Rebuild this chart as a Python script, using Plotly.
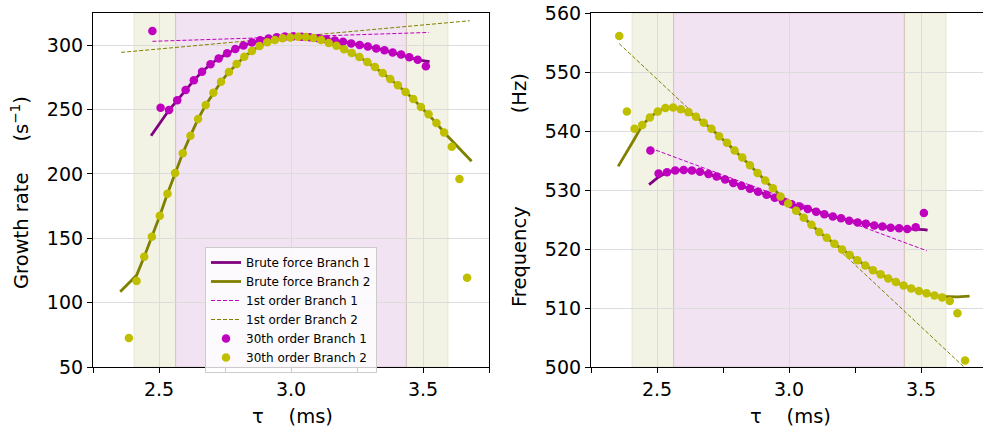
import plotly.graph_objects as go

# ---------------- data ----------------
# 30th order, branch 1 (magenta)
tau_b1 = [2.475, 2.506, 2.538, 2.569, 2.601, 2.632, 2.663, 2.695, 2.726, 2.758,
          2.789, 2.820, 2.852, 2.883, 2.915, 2.946, 2.977, 3.009, 3.040, 3.071,
          3.103, 3.134, 3.166, 3.197, 3.228, 3.260, 3.291, 3.323, 3.354, 3.385,
          3.417, 3.448, 3.480, 3.511]
growth_b1_30 = [311.1, 251.4, 249.6, 257.2, 265.2, 272.7, 279.3, 285.2, 289.7, 293.7,
                297.0, 299.8, 302.1, 303.9, 305.2, 306.2, 306.7, 306.9, 306.6, 306.1,
                305.3, 304.6, 303.7, 302.6, 301.4, 300.2, 298.9, 297.5, 296.0, 294.4,
                292.7, 290.7, 288.6, 283.6]
freq_b1_30 = [536.7, 532.8, 533.0, 533.3, 533.4, 533.3, 533.1, 532.7, 532.3, 531.8,
              531.2, 530.7, 530.2, 529.7, 529.2, 528.7, 528.1, 527.6, 527.2, 526.8,
              526.3, 525.9, 525.5, 525.2, 524.8, 524.5, 524.3, 524.0, 523.8, 523.6,
              523.5, 523.4, 523.7, 526.1]

# 30th order, branch 2 (yellow)
tau_b2 = [2.357, 2.386, 2.415, 2.444, 2.473, 2.503, 2.532, 2.561, 2.590, 2.619,
          2.648, 2.677, 2.706, 2.735, 2.765, 2.794, 2.823, 2.852, 2.881, 2.910,
          2.939, 2.968, 2.997, 3.027, 3.056, 3.085, 3.114, 3.143, 3.172, 3.201,
          3.230, 3.259, 3.289, 3.318, 3.347, 3.376, 3.405, 3.434, 3.463, 3.492,
          3.521, 3.551, 3.580, 3.609, 3.638, 3.667]
growth_b2_30 = [None, 72.5, 116.8, 135.7, 151.2, 167.5, 184.6, 200.7, 216.0, 229.7,
                242.6, 253.6, 263.1, 271.6, 279.2, 285.4, 291.0, 295.5, 299.4, 302.2,
                304.0, 305.3, 306.0, 306.6, 306.3, 305.6, 304.0, 301.7, 299.6, 296.8,
                293.9, 290.8, 286.9, 283.0, 278.4, 273.7, 268.8, 263.6, 258.2, 251.9,
                246.3, 239.5, 232.2, 221.1, 196.0, 119.4]
freq_b2_30 = [556.1, 543.3, 540.4, 541.0, 542.3, 543.3, 543.9, 544.0, 543.7, 543.2,
              542.4, 541.4, 540.4, 539.1, 538.0, 536.7, 535.5, 534.2, 532.9, 531.6,
              530.3, 528.9, 527.7, 526.5, 525.3, 524.1, 522.9, 521.9, 520.9, 519.9,
              519.0, 518.1, 517.2, 516.4, 515.7, 515.0, 514.4, 513.8, 513.3, 512.9,
              512.5, 512.1, 511.8, 511.2, 509.1, 501.1]

# brute force, branch 1
tau_bf1 = [2.470, 2.506, 2.538, 2.569, 2.601, 2.632, 2.663, 2.695, 2.726, 2.758,
           2.789, 2.820, 2.852, 2.883, 2.915, 2.946, 2.977, 3.009, 3.040, 3.071,
           3.103, 3.134, 3.166, 3.197, 3.228, 3.260, 3.291, 3.323, 3.354, 3.385,
           3.417, 3.448, 3.480, 3.511, 3.525]
growth_bf1 = [229.7, 240.2, 249.6, 257.2, 265.2, 272.7, 279.3, 285.2, 289.7, 293.7,
              297.0, 299.8, 302.1, 303.9, 305.2, 306.2, 306.7, 306.9, 306.6, 306.1,
              305.3, 304.6, 303.7, 302.6, 301.4, 300.2, 298.9, 297.5, 296.0, 294.4,
              292.7, 290.7, 288.6, 287.6, 287.2]
freq_bf1 = [530.9, 532.2, 533.0, 533.3, 533.4, 533.3, 533.1, 532.7, 532.3, 531.8,
            531.2, 530.7, 530.2, 529.7, 529.2, 528.7, 528.1, 527.6, 527.2, 526.8,
            526.3, 525.9, 525.5, 525.2, 524.8, 524.5, 524.3, 524.0, 523.8, 523.6,
            523.5, 523.4, 523.4, 523.3, 523.2]

# brute force, branch 2
tau_bf2 = [2.353, 2.386, 2.415, 2.444, 2.473, 2.503, 2.532, 2.561, 2.590, 2.619,
           2.648, 2.677, 2.706, 2.735, 2.765, 2.794, 2.823, 2.852, 2.881, 2.910,
           2.939, 2.968, 2.997, 3.027, 3.056, 3.085, 3.114, 3.143, 3.172, 3.201,
           3.230, 3.259, 3.289, 3.318, 3.347, 3.376, 3.405, 3.434, 3.463, 3.492,
           3.521, 3.551, 3.580, 3.609, 3.638, 3.684]
growth_bf2 = [108.5, 115.0, 121.2, 135.7, 151.2, 167.5, 184.6, 200.7, 216.0, 229.7,
              242.6, 253.6, 263.1, 271.6, 279.2, 285.4, 291.0, 295.5, 299.4, 302.2,
              304.0, 305.3, 306.0, 306.6, 306.3, 305.6, 304.0, 301.7, 299.6, 296.8,
              293.9, 290.8, 286.9, 283.0, 278.4, 273.7, 268.8, 263.6, 258.2, 251.9,
              246.3, 239.5, 232.2, 225.8, 219.4, 209.8]
freq_bf2 = [534.0, 536.4, 538.7, 541.0, 542.3, 543.3, 543.9, 544.0, 543.7, 543.2,
            542.4, 541.4, 540.4, 539.1, 538.0, 536.7, 535.5, 534.2, 532.9, 531.6,
            530.3, 528.9, 527.7, 526.5, 525.3, 524.1, 522.9, 521.9, 520.9, 519.9,
            519.0, 518.1, 517.2, 516.4, 515.7, 515.0, 514.4, 513.8, 513.3, 512.9,
            512.5, 512.1, 511.95, 511.9, 511.9, 512.0]

# first order (linear)
tau_fo1 = [2.475, 3.522]
growth_fo1 = [303.0, 309.9]
freq_fo1 = [537.1, 519.7]
tau_fo2 = [2.357, 3.677]
growth_fo2 = [294.4, 319.0]
freq_fo2 = [554.8, 499.4]

# shaded tau intervals
olive_bands = [(2.405, 2.563), (3.437, 3.595)]
purple_bands = [(2.563, 3.437)]

# ---------------- styles ----------------
PURPLE = "#800080"
OLIVE = "#808000"
MAG = "#bf00bf"
YEL = "#bfbf00"
FONT = "DejaVu Sans"

fig = go.Figure()


def add_panel(xa, ya, bf1, bf2, fo1, fo2, p1, p2, legend):
    fig.add_trace(go.Scatter(x=tau_bf1, y=bf1, mode="lines", name="Brute force Branch 1",
                             line=dict(color=PURPLE, width=2.8), xaxis=xa, yaxis=ya,
                             showlegend=legend))
    fig.add_trace(go.Scatter(x=tau_bf2, y=bf2, mode="lines", name="Brute force Branch 2",
                             line=dict(color=OLIVE, width=2.8), xaxis=xa, yaxis=ya,
                             showlegend=legend))
    fig.add_trace(go.Scatter(x=tau_fo1, y=fo1, mode="lines", name="1st order Branch 1",
                             line=dict(color=MAG, width=1, dash="4px,2px"), xaxis=xa, yaxis=ya,
                             showlegend=legend))
    fig.add_trace(go.Scatter(x=tau_fo2, y=fo2, mode="lines", name="1st order Branch 2",
                             line=dict(color=OLIVE, width=1, dash="4px,2px"), xaxis=xa, yaxis=ya,
                             showlegend=legend))
    fig.add_trace(go.Scatter(x=tau_b1, y=p1, mode="markers", name="30th order Branch 1",
                             marker=dict(color=MAG, size=8.5), xaxis=xa, yaxis=ya,
                             showlegend=legend))
    fig.add_trace(go.Scatter(x=tau_b2, y=p2, mode="markers", name="30th order Branch 2",
                             marker=dict(color=YEL, size=8.5), xaxis=xa, yaxis=ya,
                             showlegend=legend))


add_panel("x", "y", growth_bf1, growth_bf2, growth_fo1, growth_fo2,
          growth_b1_30, growth_b2_30, True)
add_panel("x2", "y2", freq_bf1, freq_bf2, freq_fo1, freq_fo2,
          freq_b1_30, freq_b2_30, False)

shapes = []
for xr, yr in (("x", "y domain"), ("x2", "y2 domain")):
    for a, b in olive_bands:
        shapes.append(dict(type="rect", xref=xr, yref=yr, x0=a, x1=b, y0=0, y1=1,
                           fillcolor="rgba(128,128,0,0.1)",
                           line=dict(color="rgba(128,128,0,0.12)", width=1), layer="below"))
    for a, b in purple_bands:
        shapes.append(dict(type="rect", xref=xr, yref=yr, x0=a, x1=b, y0=0, y1=1,
                           fillcolor="rgba(128,0,128,0.11)",
                           line=dict(color="rgba(150,60,100,0.18)", width=1), layer="below"))

# the page's body margin is removed by the post script, so figure px = page px
W, H = 983, 428


def px(xp):
    return xp / W


def py(yp):
    return 1 - yp / H


xd1 = [px(93), px(489)]
xd2 = [px(591), 1.0]
yd = [py(367), py(13)]

tickfont = dict(family=FONT, size=19, color="black")
common_x = dict(tickmode="linear", tick0=2.5, dtick=0.5, tickformat=".1f",
                ticks="outside", ticklen=5, tickwidth=1, tickcolor="black",
                showline=True, linecolor="black", linewidth=1.2, automargin=False,
                showgrid=True, gridcolor="#dcdcdc", gridwidth=1, zeroline=False,
                tickfont=tickfont, ticklabeloverflow="allow",
                minor=dict(tick0=2.25, dtick=0.25, ticks="outside", ticklen=5,
                           tickwidth=1, tickcolor="black", showgrid=False))
common_y = dict(ticks="outside", ticklen=5, tickwidth=1, tickcolor="black",
                showline=True, linecolor="black", linewidth=1.2, automargin=False,
                showgrid=True, gridcolor="#dcdcdc", gridwidth=1, zeroline=False,
                tickfont=tickfont, ticklabeloverflow="allow")

titlefont = dict(family=FONT, size=19.5, color="black")
nb = "\u00a0"
annotations = [
    dict(text="Growth rate" + nb * 5 + "(s<sup>−1</sup>)", xref="paper", yref="paper",
         x=px(20), y=py(193), textangle=-90, showarrow=False, font=titlefont,
         xanchor="center", yanchor="middle"),
    dict(text="Frequency" + nb * 15 + "(Hz)", xref="paper", yref="paper",
         x=px(519), y=py(190), textangle=-90, showarrow=False, font=titlefont,
         xanchor="center", yanchor="middle"),
    dict(text="τ" + nb * 4 + "(ms)", xref="paper", yref="paper",
         x=px(292), y=py(416), showarrow=False, font=titlefont,
         xanchor="center", yanchor="middle"),
    dict(text="τ" + nb * 4 + "(ms)", xref="paper", yref="paper",
         x=px(790), y=py(416), showarrow=False, font=titlefont,
         xanchor="center", yanchor="middle"),
]

fig.update_layout(
    width=W, height=H,
    margin=dict(l=0, r=0, t=0, b=0, autoexpand=False),
    paper_bgcolor="white", plot_bgcolor="white",
    font=dict(family=FONT, color="black"),
    xaxis=dict(domain=xd1, range=[2.25, 3.75], anchor="y", mirror=True, **common_x),
    yaxis=dict(domain=yd, range=[50, 325], anchor="x", mirror=True,
               tickmode="linear", tick0=50, dtick=50, **common_y),
    xaxis2=dict(domain=xd2, range=[2.25, 2.25 + 392 / 264], anchor="y2", mirror=True, **common_x),
    yaxis2=dict(domain=yd, range=[500, 560], anchor="x2", mirror=False,
                tickmode="linear", tick0=500, dtick=10, **common_y),
    shapes=shapes,
    annotations=annotations,
    showlegend=True,
    legend=dict(x=px(205), y=py(247), xanchor="left", yanchor="top",
                bgcolor="rgba(255,255,255,0.8)", bordercolor="#cccccc", borderwidth=1,
                font=dict(family=FONT, size=12, color="black"),
                tracegroupgap=0),
)

fig.write_html("out.html",
               config={"displayModeBar": False},
               post_script="document.body.style.margin='0px';document.body.style.overflow='hidden';")
